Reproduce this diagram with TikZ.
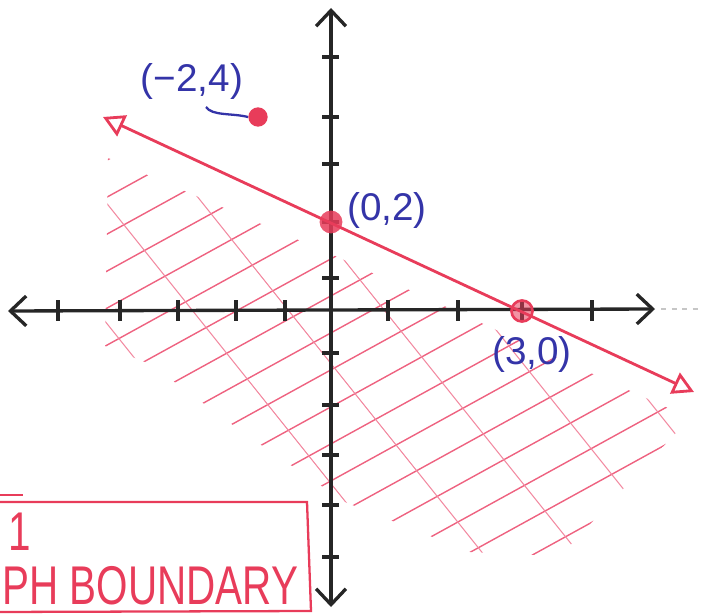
\documentclass[tikz,border=0pt]{standalone}
\usepackage{fontspec}
\setmainfont{Liberation Sans}
\usetikzlibrary{arrows.meta}

\definecolor{penred}{RGB}{232,60,90}
\definecolor{penblue}{RGB}{52,52,168}
\definecolor{hatchred}{RGB}{238,98,128}

\tikzset{
	axisline/.style={line width=1.9pt, black!85, {Straight Barb[length=9pt,width=17pt]}-{Straight Barb[length=9pt,width=17pt]}},
	tickmark/.style={line width=1.8pt, black!85},
	boundary/.style={line width=1.6pt, penred, {Triangle[open,length=12pt,width=13pt]}-{Triangle[open,length=12pt,width=13pt]}},
	hatchline/.style={line width=0.8pt, hatchred},
	crossline/.style={line width=0.6pt, hatchred!75},
	dot/.style={circle, fill=penred, inner sep=0pt, minimum size=#1},
	coordlabel/.style={text=penblue, font=\fontsize{22}{26}\selectfont, inner sep=0pt},
	notelabel/.style={text=penred, font=\fontsize{23}{28}\selectfont, inner sep=0pt},
	boxline/.style={line width=1.3pt, penred}
}

\begin{document}
\begin{tikzpicture}[x=0.02cm, y=-0.02cm]

	\useasboundingbox (0,0) rectangle (705,614);

	% Shaded half plane below the boundary
	\begin{scope}
		\clip (108,158) -- (331,254) -- (540,350) -- (690,418) -- (560,556) -- (470,552) -- (345,502) -- (245,434) -- (150,364) -- (105,346) -- cycle;
		\foreach \c in {219,256,...,870}
			\draw[hatchline] (0,\c) -- (705,{\c-388});
		\foreach \c in {190,70,-50,-170,-290,-410}
			\draw[crossline] (0,\c) -- (705,{\c+881});
	\end{scope}

	% Axes
	\coordinate (xleft) at (8,311);
	\coordinate (xright) at (655,309);
	\coordinate (ytop) at (331,8);
	\coordinate (ybottom) at (331,607);
	\draw[axisline] (xleft) -- (xright);
	\draw[axisline] (ybottom) -- (ytop);
	\draw[gray!45, dashed, line width=0.6pt] (xright) ++(6,0) coordinate (xfaint) -- ++(40,0);

	% Tick marks
	\foreach \x in {58,120,178,236,285,388,458,522,592}
		\draw[tickmark] (\x,300) -- (\x,321);
	\foreach \y in {57,117,164,222,278,353,405,455,505,557}
		\draw[tickmark] (322,\y) -- (339,\y);

	% Boundary line
	\coordinate (bstart) at (103,117);
	\coordinate (bend) at (694,392);
	\draw[boundary] (bstart) -- (bend);

	% Points
	\node[dot=11pt] (pa) at (258,117) {};
	\node[dot=13pt, opacity=0.85] (pb) at (331,222) {};
	\node[dot=12pt, draw=penred, line width=1.5pt, fill opacity=0.55] (pc) at (522,311) {};

	% Point labels
	\node[coordlabel] (la) at (192,82) {(−2,4)};
	\node[coordlabel] (lb) at (387,210) {(0,2)};
	\node[coordlabel] (lc) at (532,354) {(3,0)};
	\draw[penblue, line width=1.3pt] (206,107) .. controls (212,116) and (232,113) .. (pa.west);

	% Note box
	\draw[boxline] (-5,502) -- (307,502) -- (311,611) -- (-5,612);
	\draw[boxline] (0,495) -- (23,495);
	\node[notelabel, anchor=base west] (step) at (8,550) {\scalebox{1}[1.35]{1}};
	\node[notelabel, anchor=base west] (note) at (2,604) {\scalebox{1}[1.35]{PH BOUNDARY}};

\end{tikzpicture}
\end{document}
